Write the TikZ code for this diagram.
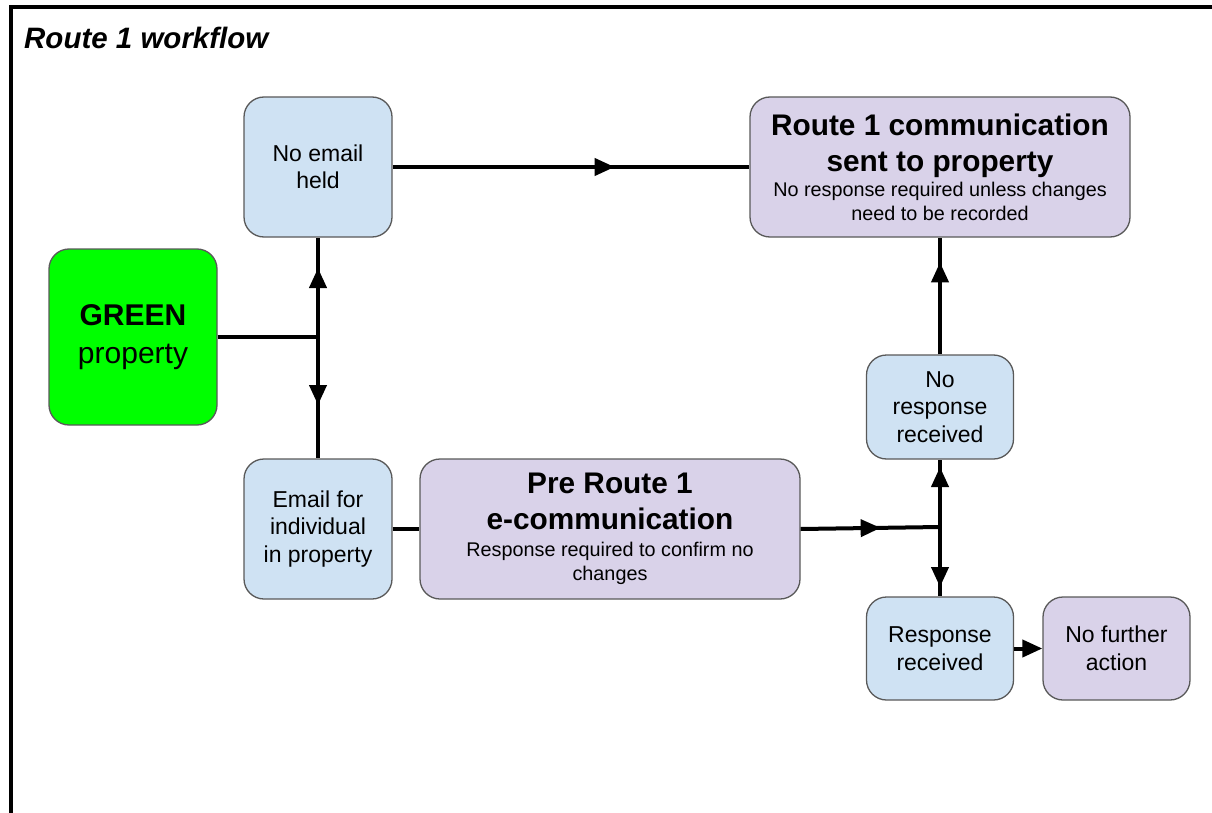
\documentclass[tikz,border=0pt]{standalone}
\usepackage{fontspec}
\setmainfont{Liberation Sans}
\usetikzlibrary{arrows.meta,decorations.markings}

\definecolor{paleblue}{HTML}{CFE2F3}
\definecolor{palepurple}{HTML}{D9D2E9}
\definecolor{brightgreen}{HTML}{00FF00}
\definecolor{boxline}{HTML}{595959}

\newcommand{\headtext}{\fontsize{29.8}{36}\selectfont\bfseries}
\newcommand{\subtext}{\fontsize{19.8}{24}\selectfont}
\newcommand{\boxtext}{\fontsize{23}{27.5}\selectfont}

\begin{document}
\begin{tikzpicture}[x=1pt,y=-1pt,
  box/.style={draw=boxline, line width=1.3pt, rounded corners=20pt,
    align=center, inner sep=0pt, text=black},
  bluebox/.style={box, fill=paleblue, font=\boxtext},
  purplebox/.style={box, fill=palepurple},
  conn/.style={line width=4pt, draw=black},
  tipat/.style={postaction={decorate, decoration={markings,
    mark=at position #1 with {\arrow{Triangle[length=20pt,width=17pt]}}}}},
]
\useasboundingbox (0,0) rectangle (1212,813);

% frame and heading
\draw[line width=3.3pt] (11,813) -- (11,7) -- (1212,7);
\node[anchor=base west, inner sep=0pt, font=\fontsize{29.5}{32}\selectfont\bfseries\itshape]
  (title) at (24,49) {Route 1 workflow};

% boxes
\node[box, fill=brightgreen, minimum width=168pt, minimum height=176pt,
  font=\fontsize{30}{36}\selectfont] (green) at (133,337)
  {\textbf{GREEN}\\[2pt]property};

\node[bluebox, minimum width=148pt, minimum height=140pt] (noemail) at (318,167)
  {No email\\held};
\node[bluebox, minimum width=148pt, minimum height=140pt] (email) at (318,529)
  {Email for\\individual\\in property};

\node[purplebox, minimum width=380pt, minimum height=140pt, font=\subtext] (route1) at (940,167)
  {{\headtext Route 1 communication}\\[12pt]{\headtext sent to property}\\[1pt]
   No response required unless changes\\need to be recorded};

\node[purplebox, minimum width=380pt, minimum height=140pt, font=\subtext] (pre) at (610,529)
  {{\headtext Pre Route 1}\\[12pt]{\headtext e-communication}\\[3pt]
   Response required to confirm no\\changes};

\node[bluebox, minimum width=147pt, minimum height=104pt] (noresp) at (940,407)
  {No\\response\\received};
\node[bluebox, minimum width=147pt, minimum height=103pt] (resp) at (940,648.5)
  {Response\\received};
\node[box, fill=palepurple, font=\boxtext, minimum width=147pt, minimum height=103pt]
  (nofurther) at (1116.5,648.5) {No further\\action};

% junctions
\coordinate (j1) at (green.east -| noemail.south);
\coordinate (j2) at (940,527);

% connectors
\draw[conn, tipat=222pt] (noemail.east) -- (route1.west);
\draw[conn] (green.east) -- (j1);
\draw[conn, tipat=69pt] (j1) -- (noemail.south);
\draw[conn, tipat=68pt] (j1) -- (email.north);
\draw[conn] (email.east) -- (pre.west);
\draw[conn, tipat=80pt] (pre.east) -- (j2);
\draw[conn, tipat=60pt] (j2) -- (noresp.south);
\draw[conn, tipat=60pt] (j2) -- (resp.north);
\draw[conn, tipat=92pt] (noresp.north) -- (route1.south);
\draw[conn, -{Triangle[length=20pt,width=17pt]}] (resp.east) -- (nofurther.west);
\end{tikzpicture}
\end{document}
